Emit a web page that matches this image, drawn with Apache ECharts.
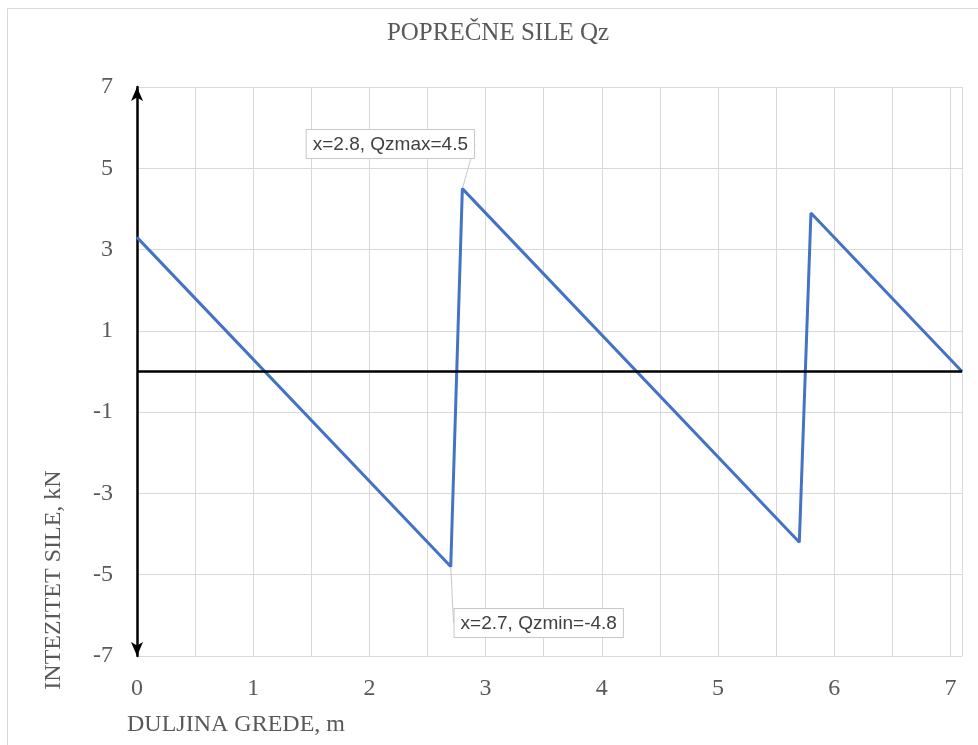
<!DOCTYPE html>
<html>
<head>
<meta charset="utf-8">
<script src="https://cdn.jsdelivr.net/npm/echarts@6/dist/echarts.min.js"></script>
<style>
  html, body { margin: 0; padding: 0; background: #fff; }
  #chart { width: 978px; height: 745px; }
</style>
</head>
<body>
<div id="chart"></div>
<script>
// ---- data ----
const xValues = [0, 2.7, 2.8, 5.7, 5.8, 7.1];
const qzValues = [3.3, -4.8, 4.5, -4.2, 3.9, 0];
const minIndex = 1; // x=2.7, Qzmin=-4.8
const maxIndex = 2; // x=2.8, Qzmax=4.5
const titleText = 'POPREČNE SILE Qz';
const xAxisName = 'DULJINA GREDE, m';
const yAxisName = 'INTEZITET SILE, kN';
const xMin = 0, xMax = 7.1, xStep = 0.5;
const yMin = -7, yMax = 7, yStep = 2;

const serif = 'Liberation Serif';
const grey = '#595959';
const gridColor = '#d9d9d9';

const chart = echarts.init(document.getElementById('chart'), null, { renderer: 'canvas' });

const seriesData = xValues.map((x, i) => {
  const item = { value: [x, qzValues[i]] };
  if (i === maxIndex) {
    item.label = { show: true, position: 'top', formatter: 'x=' + x + ', Qzmax=' + qzValues[i] };
  } else if (i === minIndex) {
    item.label = { show: true, position: 'bottom', formatter: 'x=' + x + ', Qzmin=' + qzValues[i] };
  }
  return item;
});

const option = {
  animation: false,
  backgroundColor: '#ffffff',
  title: {
    text: titleText,
    left: 498,
    top: 21,
    textAlign: 'center',
    padding: 0,
    textStyle: { fontFamily: serif, fontSize: 25, fontWeight: 'normal', color: grey }
  },
  grid: { left: 137, right: 16, top: 87, bottom: 89, containLabel: false },
  xAxis: {
    type: 'value',
    min: xMin, max: xMax, interval: xStep,
    axisLine: { show: false },
    axisTick: { show: false },
    axisLabel: {
      margin: 21,
      fontFamily: serif, fontSize: 24, color: grey,
      formatter: v => (Number.isInteger(v) ? String(v) : '')
    },
    splitLine: { show: true, lineStyle: { color: gridColor, width: 1 } }
  },
  yAxis: {
    type: 'value',
    min: yMin, max: yMax, interval: yStep,
    axisLine: {
      show: true, onZero: false,
      symbol: ['arrow', 'arrow'], symbolSize: [9, 14],
      lineStyle: { color: '#000', width: 2.5 }
    },
    axisTick: { show: false },
    axisLabel: { margin: 24, fontFamily: serif, fontSize: 24, color: grey },
    splitLine: { show: true, lineStyle: { color: gridColor, width: 1 } }
  },
  series: [{
    type: 'line',
    data: seriesData,
    symbol: 'circle',
    symbolSize: 1,
    showSymbol: true,
    lineStyle: { color: '#4472C4', width: 3 },
    itemStyle: { color: '#4472C4' },
    label: {
      show: false,
      fontFamily: 'Liberation Sans', fontSize: 19, color: '#404040',
      backgroundColor: '#ffffff', borderColor: '#c8c8c8', borderWidth: 1,
      padding: [5, 6, 4, 6], distance: 5
    },
    labelLine: { show: true, lineStyle: { color: '#c8c8c8', width: 1 } },
    labelLayout: function (p) {
      if (p.dataIndex === maxIndex) return { dx: -72, dy: -25 };
      if (p.dataIndex === minIndex) return { dx: 88, dy: 37 };
      return {};
    },
    markLine: {
      silent: true,
      symbol: ['none', 'none'],
      label: { show: false },
      lineStyle: { color: '#000', width: 2.5, type: 'solid' },
      data: [{ yAxis: 0 }]
    },
    z: 3
  }],
  graphic: [
    {
      type: 'rect', silent: true, z: -10,
      shape: { x: 7.5, y: 8.5, width: 980, height: 760 },
      style: { fill: 'none', stroke: gridColor, lineWidth: 1 }
    },
    {
      type: 'text', left: 127, top: 713,
      style: { text: xAxisName, font: '24px "Liberation Serif"', fill: grey }
    },
    {
      type: 'text', x: 54, y: 580, rotation: Math.PI / 2,
      style: { text: yAxisName, font: '24px "Liberation Serif"', fill: grey, align: 'center', verticalAlign: 'middle' }
    }
  ]
};

chart.setOption(option);
</script>
</body>
</html>
